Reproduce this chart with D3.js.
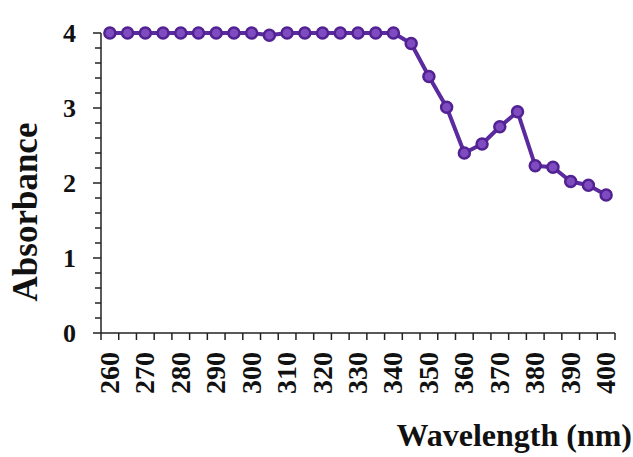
<!DOCTYPE html>
<html>
<head>
<meta charset="utf-8">
<script src="https://cdn.jsdelivr.net/npm/d3@7"></script>
<style>
  html, body { margin: 0; padding: 0; background: #fff; }
  svg { display: block; }
  text { font-family: "Liberation Serif", "Times New Roman", serif; font-weight: bold; fill: #111; }
</style>
</head>
<body>
<svg id="chart" width="633" height="457"></svg>
<script>
// Absorbance spectrum, 260–400 nm in 5 nm steps
const wavelengths = [260, 265, 270, 275, 280, 285, 290, 295, 300, 305, 310, 315, 320, 325, 330, 335, 340,
                     345, 350, 355, 360, 365, 370, 375, 380, 385, 390, 395, 400];
const absorbance = [4.0, 4.0, 4.0, 4.0, 4.0, 4.0, 4.0, 4.0, 4.0, 3.97, 4.0, 4.0, 4.0, 4.0, 4.0, 4.0, 4.0,
                    3.86, 3.42, 3.01, 2.40, 2.52, 2.75, 2.95, 2.23, 2.21, 2.02, 1.97, 1.84];
const xTickLabels = [260, 270, 280, 290, 300, 310, 320, 330, 340, 350, 360, 370, 380, 390, 400];
const yTickLabels = [0, 1, 2, 3, 4];

const svg = d3.select("#chart");
const plot = { left: 101, right: 615, top: 33, bottom: 333 };

const x = d3.scaleBand().domain(wavelengths).range([plot.left, plot.right]).paddingInner(0).paddingOuter(0);
const y = d3.scaleLinear().domain([0, 4]).range([plot.bottom, plot.top]);
const cx = d => x(d) + x.bandwidth() / 2;

const axisColor = "#222";

// Y axis: line, major and minor ticks, labels
const gy = svg.append("g");
gy.append("line").attr("x1", plot.left).attr("x2", plot.left)
  .attr("y1", y(4)).attr("y2", y(0)).attr("stroke", axisColor).attr("stroke-width", 1.5);
const minorY = d3.range(0, 4.001, 0.2);
gy.selectAll("line.tick").data(minorY).join("line")
  .attr("x1", d => Math.abs(d - Math.round(d)) < 1e-6 ? plot.left - 8 : plot.left - 6)
  .attr("x2", plot.left)
  .attr("y1", d => y(d)).attr("y2", d => y(d))
  .attr("stroke", axisColor).attr("stroke-width", 1.5);
gy.selectAll("text").data(yTickLabels).join("text")
  .attr("x", 76).attr("y", d => y(d))
  .attr("dy", "0.34em")
  .attr("text-anchor", "end")
  .attr("font-size", 26)
  .text(d => d);

// X axis: line, tick at each category boundary, rotated labels every 10 nm
const gx = svg.append("g");
gx.append("line").attr("x1", plot.left).attr("x2", plot.right)
  .attr("y1", plot.bottom).attr("y2", plot.bottom).attr("stroke", axisColor).attr("stroke-width", 1.5);
const boundaries = wavelengths.map(w => x(w)).concat([plot.right]);
gx.selectAll("line.tick").data(boundaries).join("line")
  .attr("x1", d => d).attr("x2", d => d)
  .attr("y1", plot.bottom).attr("y2", plot.bottom + 7)
  .attr("stroke", axisColor).attr("stroke-width", 1.5);
gx.selectAll("text").data(xTickLabels).join("text")
  .attr("transform", d => `translate(${cx(d) + 9},${352}) rotate(-90)`)
  .attr("text-anchor", "end")
  .attr("font-size", 28)
  .text(d => d);

// Axis titles
svg.append("text")
  .attr("transform", `translate(37,${212}) rotate(-90)`)
  .attr("text-anchor", "middle")
  .attr("font-size", 35)
  .text("Absorbance");
svg.append("text")
  .attr("x", 632).attr("y", 446)
  .attr("text-anchor", "end")
  .attr("font-size", 32)
  .text("Wavelength (nm)");

// Series line and markers
const line = d3.line().x((d, i) => cx(wavelengths[i])).y(d => y(d));
svg.append("path")
  .datum(absorbance)
  .attr("d", line)
  .attr("fill", "none")
  .attr("stroke", "#5a2a9e")
  .attr("stroke-width", 4)
  .attr("stroke-linejoin", "round");
svg.selectAll("circle").data(absorbance).join("circle")
  .attr("cx", (d, i) => cx(wavelengths[i]))
  .attr("cy", d => y(d))
  .attr("r", 5.5)
  .attr("fill", "#7e4cc0")
  .attr("stroke", "#522292")
  .attr("stroke-width", 2.5);
</script>
</body>
</html>
